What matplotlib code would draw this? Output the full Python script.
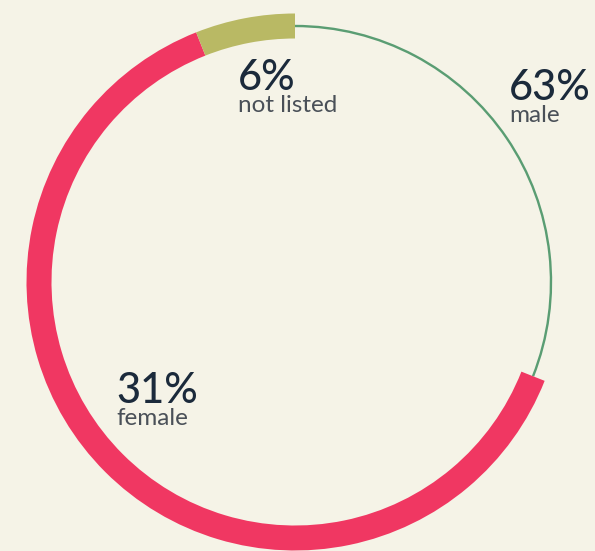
import matplotlib.pyplot as plt
from matplotlib.patches import Wedge

# data, clockwise from 12 o'clock, in the order drawn
shares = [31, 63, 6]
seg_colors = ['#5a9d73', '#f03762', '#b9b964']
seg_thin = [True, False, False]

labels = ['male', 'female', 'not listed']
pct_text = ['63%', '31%', '6%']
# label baseline positions in pixels (left x, baseline y)
label_pos = [(509, 100), (116, 403), (238, 90)]

bg = '#f5f3e7'
W, H = 595, 551
cx, cy = 295, H - 282
r_mid = 256
band = 25

fig = plt.figure(figsize=(W / 100, H / 100), dpi=100, facecolor=bg)
ax = fig.add_axes([0, 0, 1, 1])
ax.set_facecolor(bg)
ax.set_xlim(0, W)
ax.set_ylim(0, H)
ax.axis('off')

start = 0.0
for val, col, thin in zip(shares, seg_colors, seg_thin):
    frac0 = start / 100
    frac1 = (start + val) / 100
    t1 = 90 - 360 * frac1
    t2 = 90 - 360 * frac0
    if thin:
        w = Wedge((cx, cy), r_mid + 1.2, t1, t2, width=2.4, color=col, lw=0)
    else:
        w = Wedge((cx, cy), r_mid + band / 2, t1, t2, width=band, color=col, lw=0)
    ax.add_patch(w)
    start += val

for lab, pct, (x, yb) in zip(labels, pct_text, label_pos):
    ax.text(x, H - yb, pct, fontsize=30, color='#1b2a3b', family='Lato',
            fontweight='medium', va='baseline', ha='left')
    ax.text(x, H - yb - 22, lab, fontsize=17.5, color='#4a5058', family='Lato',
            fontweight='normal', va='baseline', ha='left')

fig.savefig('out.png', dpi=100, facecolor=bg)
